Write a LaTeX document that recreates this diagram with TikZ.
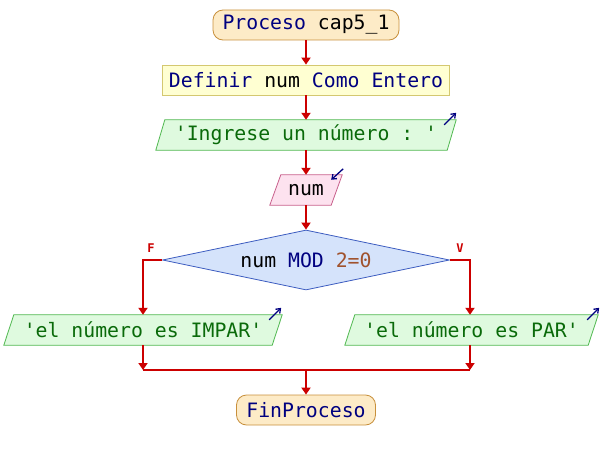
\documentclass[tikz,border=0pt]{standalone}
\usepackage{fontspec}
\setmonofont{DejaVu Sans Mono}
\usetikzlibrary{shapes.geometric,arrows.meta,calc,backgrounds}
\definecolor{kw}{HTML}{000080}
\definecolor{str}{HTML}{0A6A0A}
\definecolor{numc}{HTML}{A0522D}
\definecolor{flow}{HTML}{CC0000}
\definecolor{termfill}{HTML}{FDEBC7}
\definecolor{termdraw}{HTML}{C8903C}
\definecolor{deffill}{HTML}{FFFFD2}
\definecolor{defdraw}{HTML}{D4C870}
\definecolor{outfill}{HTML}{DFFADF}
\definecolor{outdraw}{HTML}{50B850}
\definecolor{infill}{HTML}{FDE2EF}
\definecolor{indraw}{HTML}{C8608C}
\definecolor{decfill}{HTML}{D5E3FB}
\definecolor{decdraw}{HTML}{3C5CC0}
\newcommand{\kwd}[1]{\textcolor{kw}{#1}}
\begin{document}
\begin{tikzpicture}[x=1pt,y=-1pt,
  every node/.style={font=\fontsize{19.8}{22}\selectfont\ttfamily, inner sep=0pt},
  term/.style={draw=termdraw, fill=termfill, rounded corners=10pt, minimum height=30pt, line width=0.8pt},
  defbox/.style={draw=defdraw, fill=deffill, minimum height=30pt, line width=0.8pt},
  iobox/.style={minimum height=30pt},
  outshape/.style={draw=outdraw, fill=outfill, line width=0.8pt},
  inshape/.style={draw=indraw, fill=infill, line width=0.8pt},
  decbox/.style={diamond, shape aspect=4.8, draw=decdraw, fill=decfill, line width=0.8pt},
  flowline/.style={draw=flow, line width=2pt},
  flowarrow/.style={flowline, -{Triangle[width=9pt,length=7pt]}},
  icon/.style={draw=kw, line width=1.3pt, -{Straight Barb[length=4pt,width=6pt]}},
  branch/.style={text=flow, font=\fontsize{12}{14}\selectfont\ttfamily\bfseries}
]
\useasboundingbox (0,0) rectangle (600,460);

\node[term, minimum width=186pt] (p) at (306,25) {\kwd{Proceso} cap5\_1};
\node[defbox, minimum width=287pt] (d) at (306,80) {\kwd{Definir} num \kwd{Como} \kwd{Entero}};
\node[iobox, minimum width=300pt] (o1) at (306,135) {\textcolor{str}{'Ingrese un número : '}};
\node[iobox, minimum width=72pt] (i1) at (306,190) {num};
\node[decbox, minimum width=287pt, minimum height=60pt] (c) at (306,260) {num \kwd{MOD} \textcolor{numc}{2=0}};
\node[iobox, minimum width=278pt] (o2) at (143,330) {\textcolor{str}{'el número es IMPAR'}};
\node[iobox, minimum width=253pt] (o3) at (471.5,330) {\textcolor{str}{'el número es PAR'}};
\node[term, minimum width=139pt] (f) at (306,410) {\kwd{FinProceso}};
\node[branch] (lf) at (151,248) {F};
\node[branch] (lv) at (460,248) {V};

\begin{pgfonlayer}{background}
\draw[outshape] ($(o1.north west)+(9,0)$) -- (o1.north east) -- ($(o1.south east)+(-9,0)$) -- (o1.south west) -- cycle;
\draw[inshape] ($(i1.north west)+(11,0)$) -- (i1.north east) -- ($(i1.south east)+(-11,0)$) -- (i1.south west) -- cycle;
\draw[outshape] ($(o2.north west)+(10,0)$) -- (o2.north east) -- ($(o2.south east)+(-10,0)$) -- (o2.south west) -- cycle;
\draw[outshape] ($(o3.north west)+(10,0)$) -- (o3.north east) -- ($(o3.south east)+(-10,0)$) -- (o3.south west) -- cycle;
\end{pgfonlayer}

\draw[icon] ($(o1.north east)+(-12,5)$) -- ($(o1.north east)+(0,-7)$);
\draw[icon] ($(i1.north east)+(1,-6)$) -- ($(i1.north east)+(-11,5)$);
\draw[icon] ($(o2.north east)+(-13,5)$) -- ($(o2.north east)+(-1,-7)$);
\draw[icon] ($(o3.north east)+(-11,5)$) -- ($(o3.north east)+(1,-7)$);

\coordinate (jl) at (143,370);
\coordinate (jr) at (470,370);
\coordinate (jm) at (306,370);

\draw[flowarrow] (p.south) -- (d.north);
\draw[flowarrow] (d.south) -- (o1.north);
\draw[flowarrow] (o1.south) -- (i1.north);
\draw[flowarrow] (i1.south) -- (c.north);
\draw[flowarrow] (c.west) -| (o2.north);
\draw[flowarrow] (c.east) -| ($(o3.north)+(-1.5,0)$);
\draw[flowarrow] (o2.south) -- (jl);
\draw[flowarrow] ($(o3.south)+(-1.5,0)$) -- (jr);
\draw[flowline] (jl) -- (jr);
\draw[flowarrow] (jm) -- (f.north);
\end{tikzpicture}
\end{document}
